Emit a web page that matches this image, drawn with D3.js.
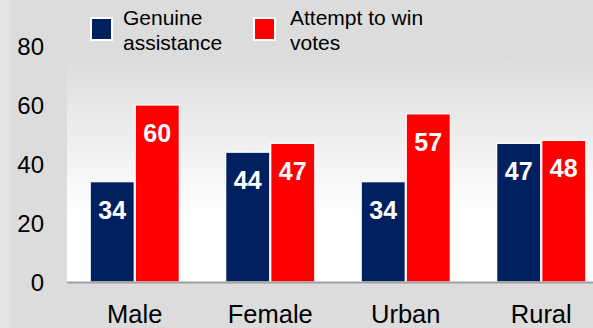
<!DOCTYPE html>
<html>
<head>
<meta charset="utf-8">
<script src="https://cdn.jsdelivr.net/npm/d3@7/dist/d3.min.js"></script>
<style>
  html, body { margin: 0; padding: 0; background: #dcdcdc; }
  svg { display: block; }
</style>
</head>
<body>
<svg id="chart" width="593" height="328"></svg>
<script>
const categories = ["Male", "Female", "Urban", "Rural"];
const seriesNames = ["Genuine assistance", "Attempt to win votes"];
const legendLines = [["Genuine", "assistance"], ["Attempt to win", "votes"]];
const genuine = [34, 44, 34, 47];
const attempt = [60, 47, 57, 48];
const yTicks = [0, 20, 40, 60, 80];
const colors = ["#002060", "#ff0000"];

const W = 593, H = 328;
const plot = { left: 67, right: 609, top: 60, bottom: 282 };
const font = "Liberation Sans, Arial, sans-serif";

const svg = d3.select("#chart");

// page background with a lighter strip on the far left
svg.append("rect").attr("x", 0).attr("y", 0).attr("width", W).attr("height", H).attr("fill", "#dcdcdc");
svg.append("rect").attr("x", 0).attr("y", 0).attr("width", 10).attr("height", H).attr("fill", "#e4e4e4");

// plot area gradient: gray at top fading to white
const defs = svg.append("defs");
const grad = defs.append("linearGradient").attr("id", "plotBg")
  .attr("x1", 0).attr("y1", 0).attr("x2", 0).attr("y2", 1);
grad.append("stop").attr("offset", "0%").attr("stop-color", "#dddddd");
grad.append("stop").attr("offset", "70%").attr("stop-color", "#ffffff");
grad.append("stop").attr("offset", "100%").attr("stop-color", "#ffffff");

svg.append("rect")
  .attr("x", plot.left).attr("y", plot.top)
  .attr("width", plot.right - plot.left).attr("height", plot.bottom - plot.top)
  .attr("fill", "url(#plotBg)");

const x0 = d3.scaleBand().domain(categories).range([plot.left, plot.right]).paddingInner(0.335).paddingOuter(0.1675);
const x1 = d3.scaleBand().domain([0, 1]).range([0, x0.bandwidth()]).padding(0);
const y = d3.scaleLinear().domain([0, 80]).range([plot.bottom, plot.bottom - 80 * 2.95]);

const rows = categories.map((c, i) => ({ cat: c, vals: [genuine[i], attempt[i]] }));

const groups = svg.append("g").selectAll("g").data(rows).join("g")
  .attr("transform", d => `translate(${x0(d.cat)},0)`);

groups.selectAll("rect").data(d => d.vals.map((v, k) => ({ v, k }))).join("rect")
  .attr("x", d => x1(d.k) + 0.5)
  .attr("y", d => y(d.v))
  .attr("width", x1.bandwidth() - 1)
  .attr("height", d => y(0) - y(d.v))
  .attr("fill", d => colors[d.k])
  .attr("stroke", "#ffffff")
  .attr("stroke-width", 1.2);

groups.selectAll("text").data(d => d.vals.map((v, k) => ({ v, k }))).join("text")
  .attr("x", d => x1(d.k) + x1.bandwidth() / 2)
  .attr("y", d => y(d.v) + 37)
  .attr("text-anchor", "middle")
  .attr("fill", "#ffffff")
  .attr("font-family", font)
  .attr("font-weight", "bold")
  .attr("font-size", 25)
  .text(d => d.v);

// baseline
svg.append("line")
  .attr("x1", plot.left).attr("x2", W)
  .attr("y1", y(0) + 0.5).attr("y2", y(0) + 0.5)
  .attr("stroke", "#a0a0a0").attr("stroke-width", 2);

// y axis labels
const yAxis = d3.axisLeft(y).tickValues(yTicks).tickSize(0).tickPadding(0);
const yg = svg.append("g").attr("transform", "translate(44,0)").call(yAxis);
yg.select(".domain").remove();
yg.selectAll("text")
  .attr("font-family", font)
  .attr("font-size", 24)
  .attr("fill", "#000000")
  .attr("dy", "0.35em");

// x axis labels
const xAxis = d3.axisBottom(x0).tickSize(0).tickPadding(0);
const xg = svg.append("g").attr("transform", `translate(0,${plot.bottom})`).call(xAxis);
xg.select(".domain").remove();
xg.selectAll("text")
  .attr("font-family", font)
  .attr("font-size", 25.5)
  .attr("fill", "#000000")
  .attr("dy", 0)
  .attr("y", 41);

// legend
const legendX = [90, 253];
const legendTextX = [33, 37];
const legend = svg.append("g").selectAll("g").data(seriesNames).join("g")
  .attr("transform", (d, i) => `translate(${legendX[i]},17)`);
legend.append("rect")
  .attr("x", 1).attr("y", 1).attr("width", 21).attr("height", 22)
  .attr("fill", (d, i) => colors[i])
  .attr("stroke", "#ffffff").attr("stroke-width", 2);
legend.each(function (d, i) {
  d3.select(this).append("text")
    .attr("font-family", font)
    .attr("font-size", 21)
    .attr("fill", "#000000")
    .selectAll("tspan").data(legendLines[i]).join("tspan")
    .attr("x", legendTextX[i])
    .attr("y", (t, j) => 8 + j * 25)
    .text(t => t);
});
</script>
</body>
</html>
